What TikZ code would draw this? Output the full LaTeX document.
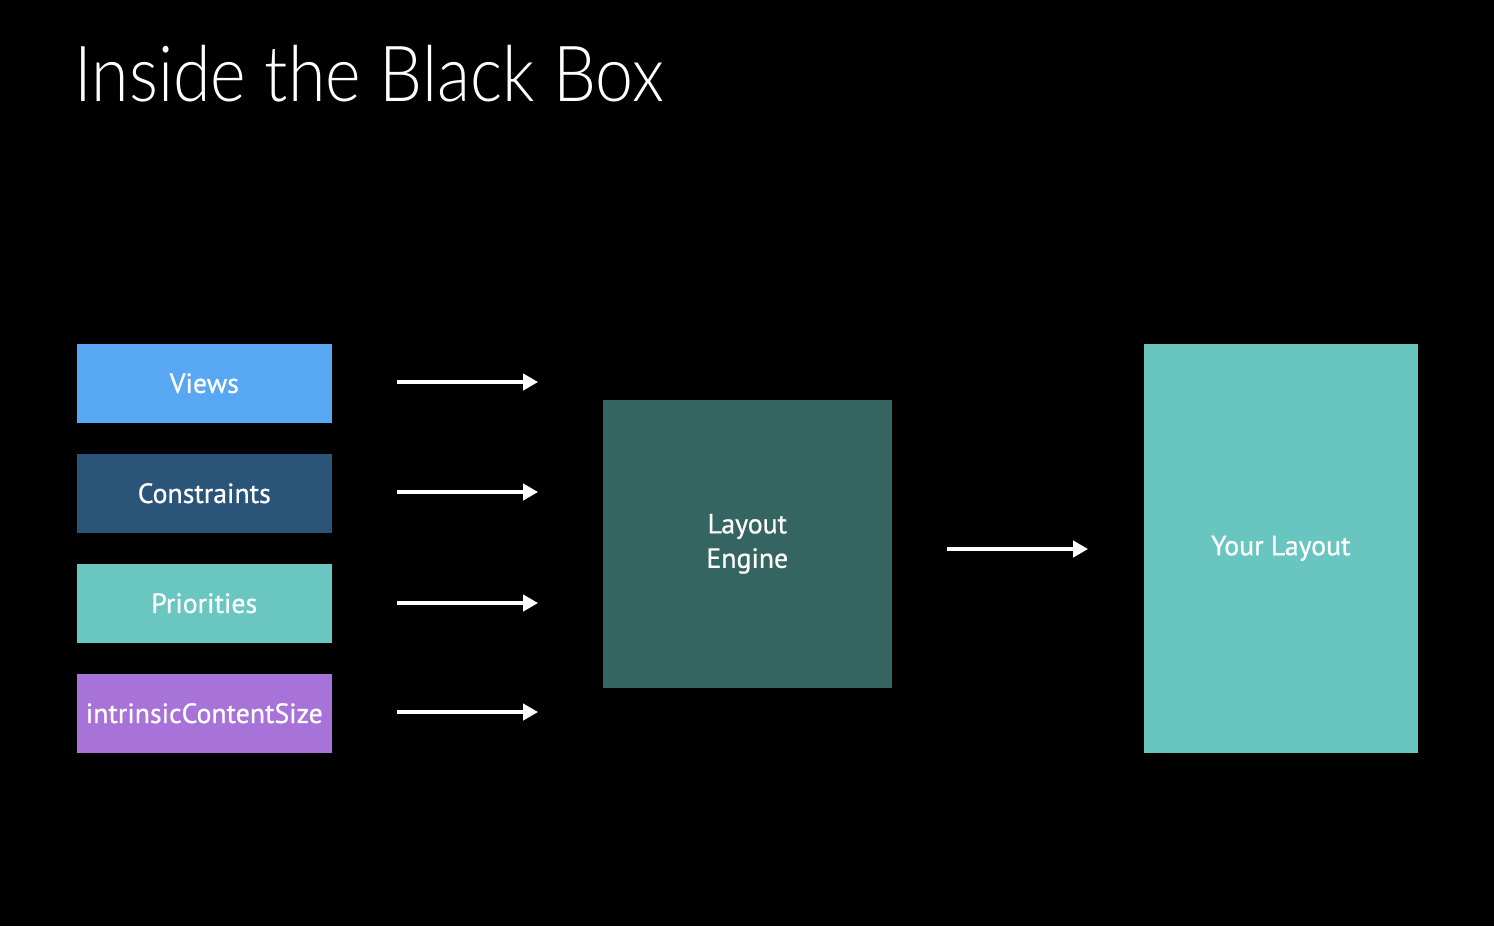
\documentclass[tikz,border=0pt]{standalone}
\usepackage{fontspec}
\setmainfont{PT Sans}
\newfontfamily\labelfont[FakeBold=0.7]{PT Sans}
\newfontfamily\titlefont{Lato Light}
\usetikzlibrary{arrows.meta}
\definecolor{cviews}{HTML}{58A7F2}
\definecolor{ccons}{HTML}{2B5578}
\definecolor{cprio}{HTML}{69C6C0}
\definecolor{cintr}{HTML}{A873D8}
\definecolor{cengine}{HTML}{346560}
\definecolor{cyour}{HTML}{69C5C0}
\tikzset{
  box/.style={draw=none, inner sep=0pt, anchor=north west, text=white, font=\labelfont\fontsize{7.9}{10}\selectfont, align=center},
  flow/.style={draw=white, line width=0.9pt, -{Triangle[length=4.2pt,width=4.6pt]}},
}
\begin{document}
\begin{tikzpicture}[x=0.01cm,y=-0.01cm]
\fill[black] (0,0) rectangle (1494,926);
\useasboundingbox (0,0) rectangle (1494,926);
\node[anchor=base west, inner sep=0pt, text=white, xscale=0.88, font=\titlefont\fontsize{22}{26}\selectfont] (title) at (74,101) {Inside the Black Box};
\node[box, fill=cviews, minimum width=2.55cm, minimum height=0.79cm] (views) at (76,343) {Views};
\node[box, fill=ccons, minimum width=2.55cm, minimum height=0.79cm] (cons) at (76,453) {Constraints};
\node[box, fill=cprio, minimum width=2.55cm, minimum height=0.79cm] (prio) at (76,563) {Priorities};
\node[box, fill=cintr, minimum width=2.55cm, minimum height=0.79cm] (intr) at (76,673) {intrinsicContentSize};
\node[box, fill=cengine, minimum width=2.89cm, minimum height=2.88cm] (engine) at (602,399) {\raisebox{-0.5pt}{Layout}\\[0.3pt]Engine};
\node[box, fill=cyour, minimum width=2.74cm, minimum height=4.09cm] (your) at (1143,343) {\raisebox{-0.85pt}{Your Layout}};
\foreach \n/\y in {views/382, cons/492, prio/603, intr/712}{
  \coordinate (s\n) at (397,\y);
  \coordinate (e\n) at (538,\y);
  \draw[flow] (s\n) -- (e\n);
}
\coordinate (s5) at (947,549);
\coordinate (e5) at (1088,549);
\draw[flow] (s5) -- (e5);
\end{tikzpicture}
\end{document}
